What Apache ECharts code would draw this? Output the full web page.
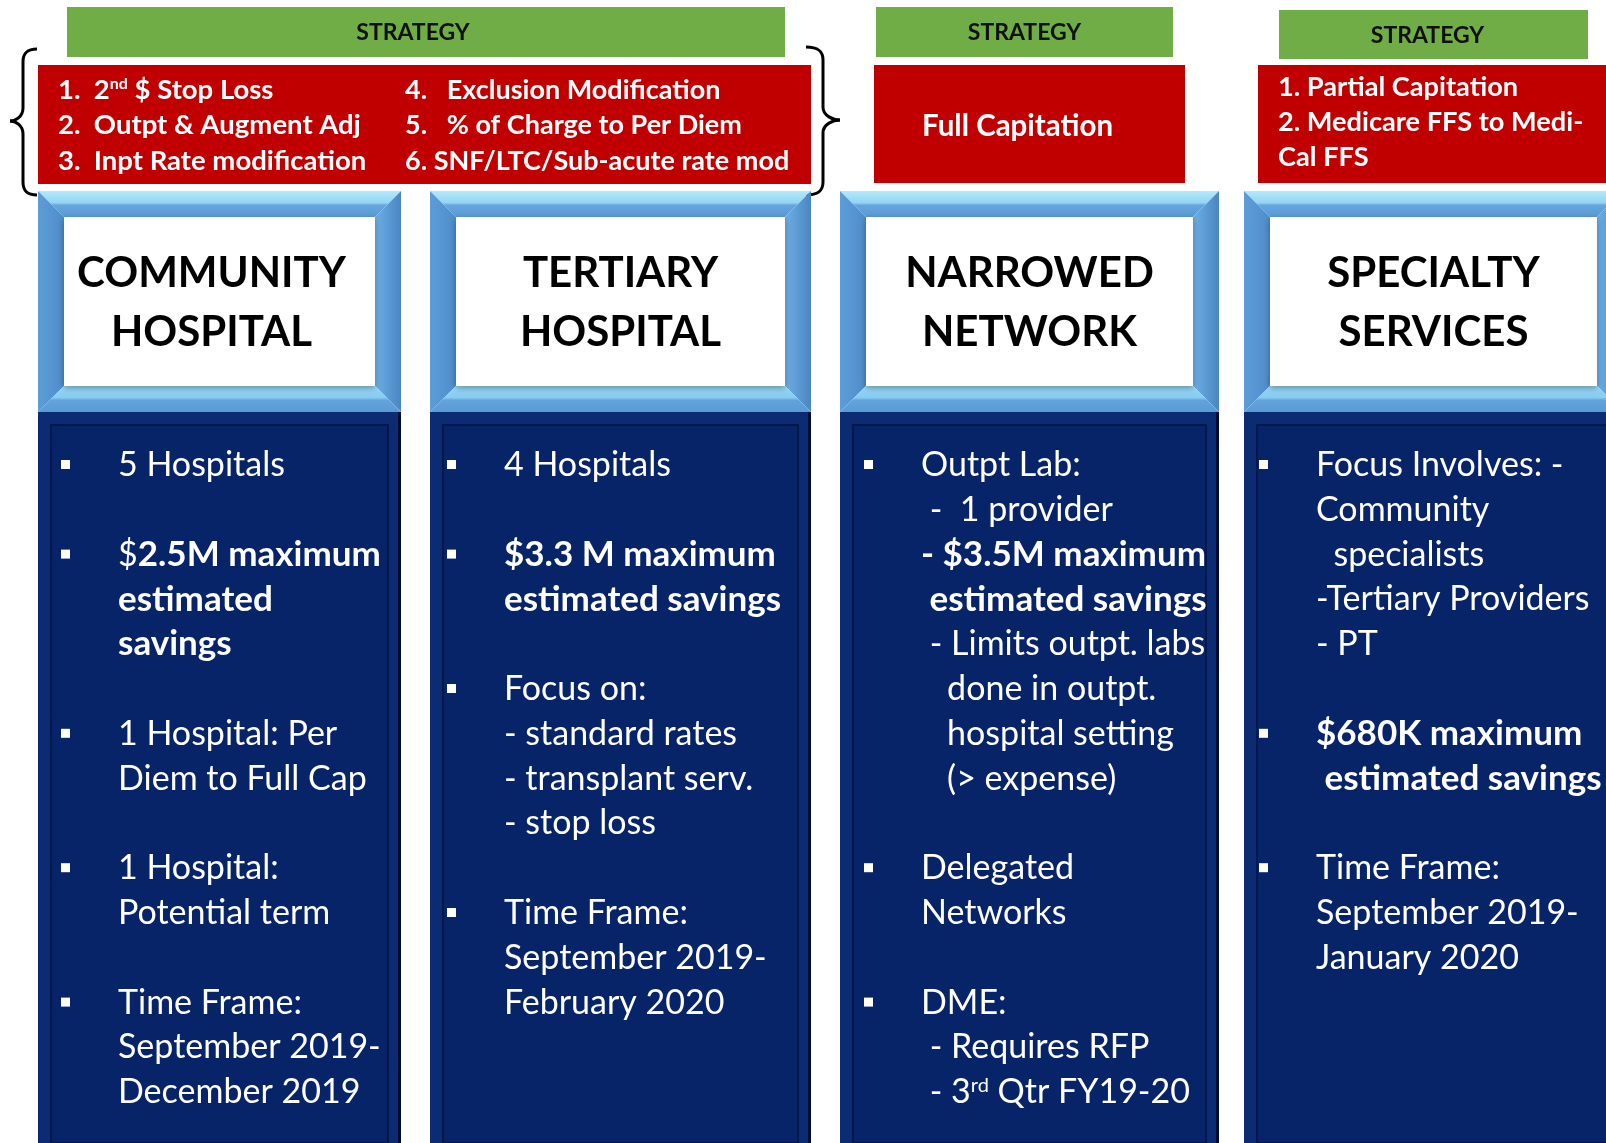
<!DOCTYPE html>
<html>
<head>
<meta charset="utf-8">
<script src="https://cdn.jsdelivr.net/npm/echarts@6/dist/echarts.min.js"></script>
<style>
  html, body { margin: 0; padding: 0; background: #fff; }
  #main { width: 1606px; height: 1143px; }
</style>
</head>
<body>
<div id="main"></div>
<script>
// 文字内容
const strategyLabel = 'STRATEGY';
const headings = ['COMMUNITY\nHOSPITAL', 'TERTIARY\nHOSPITAL', 'NARROWED\nNETWORK', 'SPECIALTY\nSERVICES'];

const communityStrategyA = ['1.  2{sup|nd} $ Stop Loss', '2.  Outpt & Augment Adj', '3.  Inpt Rate modification'];
const communityStrategyB = ['4.   Exclusion Modification', '5.   % of Charge to Per Diem', '6. SNF/LTC/Sub-acute rate mod'];
const networkStrategy = ['Full Capitation'];
const specialtyStrategy = ['1. Partial Capitation', '2. Medicare FFS to Medi-', 'Cal FFS'];

// "* " 开头 = 带方块项目符号
const communityPoints = ['* 5 Hospitals', '', '* ${b|2.5M maximum}', '{b|estimated}', '{b|savings}', '',
  '* 1 Hospital: Per', 'Diem to Full Cap', '', '* 1 Hospital:', 'Potential term', '',
  '* Time Frame:', 'September 2019-', 'December 2019'];
const tertiaryPoints = ['* 4 Hospitals', '', '* {b|$3.3 M maximum}', '{b|estimated savings}', '',
  '* Focus on:', '- standard rates', '- transplant serv.', '- stop loss', '',
  '* Time Frame:', 'September 2019-', 'February 2020'];
const networkPoints = ['* Outpt Lab:', ' -  1 provider', '{b|- $3.5M maximum}', '{b| estimated savings}',
  ' - Limits outpt. labs', '   done in outpt.', '   hospital setting', '   (> expense)', '',
  '* Delegated', 'Networks', '', '* DME:', ' - Requires RFP', ' - 3{sup|rd} Qtr FY19-20'];
const specialtyPoints = ['* Focus Involves: -', 'Community', '  specialists', '-Tertiary Providers', '- PT', '',
  '* {b|$680K maximum}', '{b| estimated savings}', '', '* Time Frame:', 'September 2019-', 'January 2020'];

// 布局
const FONT = 'Lato';
const columns = [{ x0: 38, x1: 401 }, { x0: 430, x1: 811 }, { x0: 840, x1: 1219 }, { x0: 1244, x1: 1623 }];
const textX = [118, 504, 921, 1316];
const frameTop = 191, frameBottom = 412, bevel = 26, panelBottom = 1170;
const lineTop = 465, lineStep = 44.8;

const elements = [];

function rect(x, y, w, h, fill, extra) {
    return Object.assign({ type: 'rect', shape: { x, y, width: w, height: h }, style: { fill }, silent: true }, extra || {});
}
function poly(points, fill) {
    return { type: 'polygon', shape: { points }, style: { fill }, silent: true };
}
function grad(x2, y2, stops) {
    return new echarts.graphic.LinearGradient(0, 0, x2, y2, stops.map(c => ({ offset: c[0], color: c[1] })));
}
function text(x, y, str, opt) {
    return {
        type: 'text', x, y, silent: true,
        style: Object.assign({
            text: str, fill: '#fff', fontFamily: FONT, fontSize: 27, fontWeight: 'bold',
            align: 'left', verticalAlign: 'middle'
        }, opt || {})
    };
}
function curve(p1, c1, c2, p2) {
    return {
        type: 'bezierCurve', silent: true,
        shape: { x1: p1[0], y1: p1[1], cpx1: c1[0], cpy1: c1[1], cpx2: c2[0], cpy2: c2[1], x2: p2[0], y2: p2[1] },
        style: { fill: null, stroke: '#000', lineWidth: 3 }
    };
}
function seg(p1, p2) {
    return { type: 'line', silent: true, shape: { x1: p1[0], y1: p1[1], x2: p2[0], y2: p2[1] }, style: { stroke: '#000', lineWidth: 3 } };
}
// 大括号: ex=末端x, sx=竖线x, tx=尖端x
function brace(ex, sx, tx, top, mid, bottom) {
    return [
        curve([ex, top], [sx + (ex - sx) * 0.3, top], [sx, top + 4], [sx, top + 13]),
        seg([sx, top + 13], [sx, mid - 13]),
        curve([sx, mid - 13], [sx, mid - 4], [tx + (sx - tx) * 0.4, mid], [tx, mid]),
        curve([tx, mid], [tx + (sx - tx) * 0.4, mid], [sx, mid + 4], [sx, mid + 13]),
        seg([sx, mid + 13], [sx, bottom - 13]),
        curve([sx, bottom - 13], [sx, bottom - 4], [sx + (ex - sx) * 0.3, bottom], [ex, bottom])
    ];
}

// 绿色 STRATEGY 标签 (文字略偏左)
[{ x: 67, y: 7, w: 718, h: 50, dx: -13 }, { x: 876, y: 7, w: 297, h: 50, dx: 0 }, { x: 1279, y: 10, w: 309, h: 49, dx: -6 }].forEach(g => {
    elements.push(rect(g.x, g.y, g.w, g.h, '#70ad47'));
    elements.push(text(g.x + g.w / 2 + g.dx, g.y + g.h / 2 + 1, strategyLabel, { fill: '#111', fontSize: 23, align: 'center' }));
});

// 红色策略框
[{ x: 38, y: 65, w: 773, h: 119 }, { x: 874, y: 65, w: 311, h: 118 }, { x: 1258, y: 65, w: 360, h: 118 }].forEach(r => {
    elements.push(rect(r.x, r.y, r.w, r.h, '#c00000'));
});
const supStyle = { fontFamily: FONT, fontWeight: 'bold', fontSize: 16, fill: '#fff', verticalAlign: 'top' };
communityStrategyA.forEach((s, i) => elements.push(text(58, 90 + i * 35.5, s, { fontSize: 27.5, rich: { sup: supStyle } })));
communityStrategyB.forEach((s, i) => elements.push(text(405, 90 + i * 35.5, s)));
networkStrategy.forEach(s => elements.push(text(922, 126, s, { fontSize: 29.5 })));
specialtyStrategy.forEach((s, i) => elements.push(text(1278, 87 + i * 35, s, { fontSize: 27.2 })));

// 大括号
elements.push(...brace(37, 23, 10, 49, 121, 195));
elements.push(...brace(806, 823, 840, 47, 120, 195));

// 标题框 + 深蓝内容面板
const allPoints = [communityPoints, tertiaryPoints, networkPoints, specialtyPoints];
columns.forEach((c, k) => {
    const { x0, x1 } = c, y0 = frameTop, y1 = frameBottom, t = bevel;
    // 深蓝面板
    elements.push(rect(x0, y1, x1 - x0, panelBottom - y1, '#0b2c72'));
    elements.push(rect(x0 + 13, y1 + 13, x1 - x0 - 26, panelBottom - y1 - 40, '#072469',
        { style: { fill: '#072469', stroke: '#03174a', lineWidth: 2 } }));
    elements.push(rect(x1 - 3, y1, 3, panelBottom - y1, '#000b2e'));

    // 立体边框
    elements.push(poly([[x0, y0], [x1, y0], [x1 - t, y0 + t], [x0 + t, y0 + t]],
        grad(0, 1, [[0, '#b4e8fb'], [0.45, '#94d5f5'], [0.55, '#64a6dc'], [1, '#5b9bd5']])));
    elements.push(poly([[x0, y0], [x0 + t, y0 + t], [x0 + t, y1 - t], [x0, y1]],
        grad(1, 0, [[0, '#5d9dd7'], [1, '#4f8dcb']])));
    elements.push(poly([[x1, y0], [x1, y1], [x1 - t, y1 - t], [x1 - t, y0 + t]],
        grad(1, 0, [[0, '#6eb0e6'], [0.5, '#5c9ad4'], [1, '#4a86c2']])));
    elements.push(poly([[x0, y1], [x0 + t, y1 - t], [x1 - t, y1 - t], [x1, y1]],
        grad(0, 1, [[0, '#9ad9f7'], [0.45, '#86cbf1'], [0.55, '#62a3da'], [1, '#5b9bd5']])));
    elements.push(rect(x0 + t, y0 + t, x1 - x0 - 2 * t, y1 - y0 - 2 * t, '#fff',
        { style: { fill: '#fff', shadowBlur: 6, shadowColor: 'rgba(0,0,0,0.35)', shadowOffsetY: 2 } }));
    elements.push(text((x0 + x1) / 2 - (k === 0 ? 8 : 0), 303, headings[k], {
        fill: '#000', fontSize: 42, align: 'center', lineHeight: 59
    }));

    // 项目符号文字
    const bodyRich = {
        b: { fontFamily: FONT, fontWeight: 'bold', fontSize: 35, fill: '#fff' },
        sup: { fontFamily: FONT, fontWeight: 'normal', fontSize: 20, fill: '#fff', verticalAlign: 'top' }
    };
    allPoints[k].forEach((line, i) => {
        if (!line) return;
        const y = lineTop + i * lineStep;
        let str = line;
        if (line.startsWith('* ')) {
            str = line.slice(2);
            elements.push(rect(textX[k] - 57, y - 5, 9, 9, '#fff'));
        }
        elements.push(text(textX[k], y, str, { fontSize: 34, fontWeight: 'normal', rich: bodyRich }));
    });
});

const chart = echarts.init(document.getElementById('main'), null, { renderer: 'canvas' });
chart.setOption({ animation: false, graphic: { elements } });
</script>
</body>
</html>
